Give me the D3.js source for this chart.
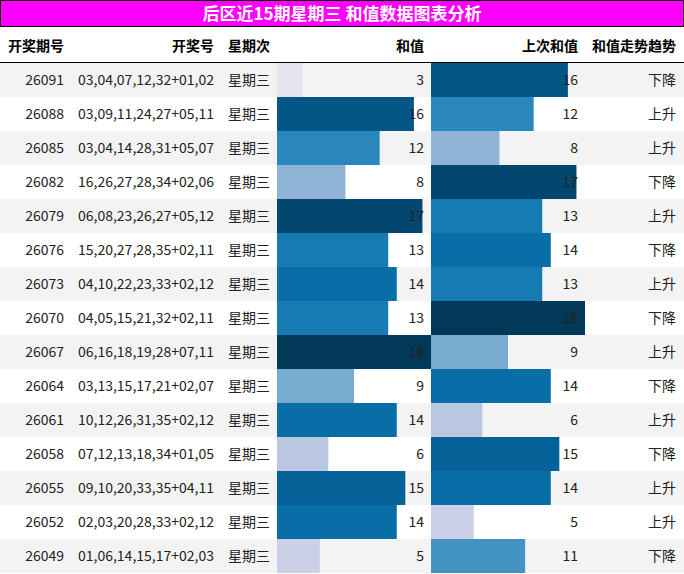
<!DOCTYPE html><html><head><meta charset="utf-8"><script src="https://cdn.jsdelivr.net/npm/d3@7"></script>
<style>body{margin:0;background:#fff}svg{display:block;font-family:"Noto Sans CJK SC","DejaVu Sans",sans-serif}</style></head><body><svg id="c" width="684" height="574"></svg>
<script>
const title="后区近15期星期三 和值数据图表分析";
const headers=["开奖期号","开奖号","星期次","和值","上次和值","和值走势趋势"];
const periods=["26091","26088","26085","26082","26079","26076","26073","26070","26067","26064","26061","26058","26055","26052","26049"];
const numbers=["03,04,07,12,32+01,02","03,09,11,24,27+05,11","03,04,14,28,31+05,07","16,26,27,28,34+02,06","06,08,23,26,27+05,12","15,20,27,28,35+02,11","04,10,22,23,33+02,12","04,05,15,21,32+02,11","06,16,18,19,28+07,11","03,13,15,17,21+02,07","10,12,26,31,35+02,12","07,12,13,18,34+01,05","09,10,20,33,35+04,11","02,03,20,28,33+02,12","01,06,14,15,17+02,03"];
const weekday="星期三";
const sums=[3,16,12,8,17,13,14,13,18,9,14,6,15,14,5];
const prevSums=[16,12,8,17,13,14,13,18,9,14,6,15,14,5,11];
const trends=["下降","上升","上升","下降","上升","下降","上升","下降","上升","下降","上升","下降","上升","上升","下降"];

const svg=d3.select("#c");
const W=684,top0=63,rh=34;
svg.append("rect").attr("x",0.5).attr("y",0.5).attr("width",W-1).attr("height",26).attr("fill","#ff00ff").attr("stroke","#000");
svg.append("text").attr("x",W/2).attr("y",20).attr("text-anchor","middle").attr("fill","#fff").attr("font-weight","bold").attr("font-size",17).text(title);
const y=d3.scaleBand().domain(d3.range(periods.length)).range([top0,top0+rh*periods.length]);
const x1=d3.scaleLinear().domain([0,18]).range([277,431]);
const x2=d3.scaleLinear().domain([0,18]).range([431,585]);
const col=d3.scaleSequential(d3.interpolatePuBu).domain([0.5,18]);
const hx=[[64,"end"],[214,"end"],[228,"start"],[424,"end"],[578,"end"],[676,"end"]];
headers.forEach((h,i)=>svg.append("text").attr("x",hx[i][0]).attr("y",51).attr("text-anchor",hx[i][1]).attr("font-weight","bold").attr("font-size",14).text(h));
svg.append("line").attr("x1",0).attr("x2",W).attr("y1",62.5).attr("y2",62.5).attr("stroke","#000");
const g=svg.selectAll("g.r").data(periods).join("g");
g.append("rect").attr("x",0).attr("width",W).attr("y",(d,i)=>y(i)).attr("height",rh).attr("fill",(d,i)=>i%2==0?"#f3f3f3":"#fff");
g.append("rect").attr("x",x1(0)).attr("y",(d,i)=>y(i)).attr("height",rh).attr("width",(d,i)=>x1(sums[i])-x1(0)).attr("fill",(d,i)=>col(sums[i]));
g.append("rect").attr("x",x2(0)).attr("y",(d,i)=>y(i)).attr("height",rh).attr("width",(d,i)=>x2(prevSums[i])-x2(0)).attr("fill",(d,i)=>col(prevSums[i]));
const t=(xx,anc,f)=>g.append("text").attr("x",xx).attr("y",(d,i)=>y(i)+22).attr("text-anchor",anc).attr("font-size",14).attr("fill","#222").text(f);
t(64,"end",d=>d);t(214,"end",(d,i)=>numbers[i]);t(228,"start",()=>weekday);
t(424,"end",(d,i)=>sums[i]);t(578,"end",(d,i)=>prevSums[i]);t(676,"end",(d,i)=>trends[i]);
</script></body></html>
